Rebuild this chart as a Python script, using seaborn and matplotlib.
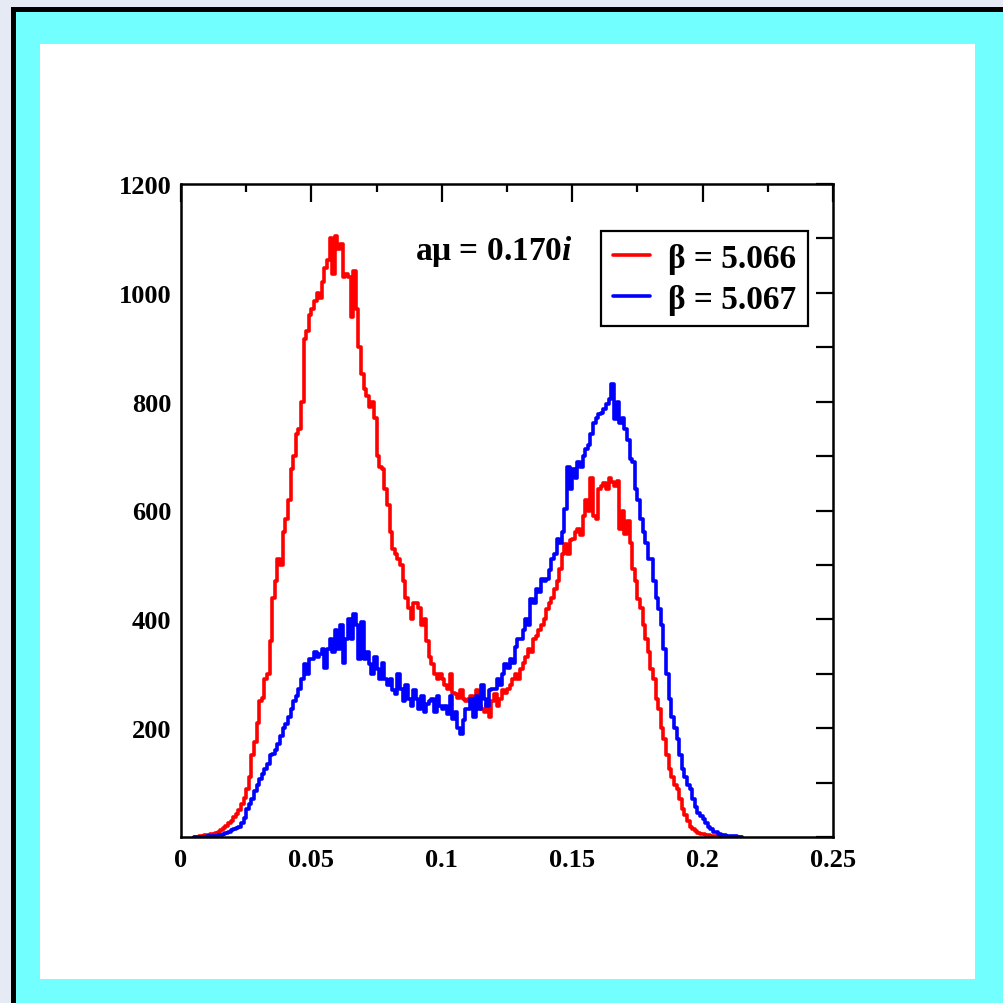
import numpy as np
import pandas as pd
import matplotlib
matplotlib.use("Agg")
import matplotlib.pyplot as plt
from matplotlib.patches import Rectangle
from matplotlib.ticker import MultipleLocator, FuncFormatter
import seaborn as sns

# ---------------- data ----------------
bin_width = 0.001
bin_start = 0.005

red_counts = [
    0, 0, 1, 2, 3,
    3, 5, 6, 8, 10, 12, 16, 20, 25, 30,
    36, 42, 50, 60, 72, 88, 110, 150, 175, 210,
    250, 255, 290, 300, 360, 440, 470, 510, 500, 560,
    585, 620, 676, 700, 740, 750, 800, 915, 930, 960,
    970, 985, 1000, 990, 1020, 1045, 1060, 1100, 1035, 1105,
    1080, 1090, 1030, 1035, 1030, 955, 1040, 970, 900, 850,
    823, 810, 790, 800, 770, 700, 680, 676, 640, 610,
    560, 530, 520, 511, 500, 470, 440, 420, 400, 430,
    430, 420, 390, 400, 360, 330, 318, 300, 290, 300,
    290, 280, 272, 300, 265, 263, 255, 270, 254, 250,
    254, 260, 245, 270, 240, 235, 230, 245, 220, 250,
    263, 240, 254, 270, 265, 272, 280, 290, 300, 290,
    309, 320, 330, 345, 340, 364, 370, 380, 390, 400,
    419, 430, 440, 456, 470, 492, 520, 538, 520, 545,
    548, 560, 566, 555, 590, 620, 600, 660, 590, 585,
    640, 645, 650, 640, 660, 652, 645, 655, 566, 600,
    557, 580, 540, 492, 470, 437, 420, 390, 364, 340,
    309, 290, 254, 235, 200, 180, 150, 125, 110, 95,
    88, 70, 51, 40, 30, 18, 14, 11, 8, 5,
    5, 4, 3, 2, 2, 1, 1, 0, 0, 0,
    0, 0, 0, 0, 0,
]

blue_counts = [
    0, 0, 0, 0, 0,
    1, 1, 2, 2, 3, 4, 5, 7, 9, 12,
    15, 16, 18, 25, 35, 51, 60, 70, 85, 95,
    107, 115, 125, 135, 150, 153, 160, 171, 185, 200,
    208, 220, 235, 250, 260, 272, 290, 318, 300, 327,
    327, 340, 330, 336, 345, 310, 345, 364, 340, 380,
    345, 390, 320, 364, 400, 364, 410, 390, 327, 395,
    327, 340, 318, 300, 330, 309, 290, 320, 290, 280,
    290, 270, 263, 300, 272, 250, 280, 254, 240, 270,
    254, 235, 260, 230, 245, 250, 254, 230, 260, 240,
    235, 240, 226, 260, 217, 230, 200, 190, 215, 235,
    235, 254, 220, 260, 235, 280, 254, 240, 270, 272,
    272, 290, 280, 300, 318, 310, 327, 320, 350, 364,
    364, 380, 400, 390, 437, 430, 456, 450, 474, 470,
    474, 490, 511, 520, 548, 540, 560, 603, 680, 640,
    676, 660, 690, 680, 700, 713, 720, 740, 760, 770,
    777, 780, 786, 795, 805, 832, 768, 800, 760, 770,
    750, 730, 695, 690, 640, 620, 585, 560, 540, 511,
    511, 470, 440, 419, 390, 345, 300, 254, 220, 200,
    180, 150, 125, 110, 95, 88, 70, 55, 45, 38,
    33, 25, 18, 14, 10, 9, 6, 4, 3, 2,
    2, 1, 1, 0, 0,
]

series_labels = ["β = 5.066", "β = 5.067"]
series_colors = ["#ff0000", "#0000ff"]
annotation_text = r"aμ = 0.170$\mathit{i}$"

x_ticks = [0, 0.05, 0.1, 0.15, 0.2, 0.25]
x_tick_labels = ["0", "0.05", "0.1", "0.15", "0.2", "0.25"]

# ---------------- build table ----------------
n = len(red_counts)
bin_end = bin_start + bin_width * n
centers = bin_start + bin_width * (np.arange(n) + 0.5)
df = pd.concat([
    pd.DataFrame({"x": centers, "count": red_counts, "series": series_labels[0]}),
    pd.DataFrame({"x": centers, "count": blue_counts, "series": series_labels[1]}),
], ignore_index=True)

# ---------------- style ----------------
sns.set_theme(style="white")
plt.rcParams["font.family"] = ["Liberation Serif", "DejaVu Serif"]
plt.rcParams["font.weight"] = "bold"
plt.rcParams["mathtext.fontset"] = "custom"
plt.rcParams["mathtext.it"] = "Liberation Serif:italic:bold"
plt.rcParams["mathtext.rm"] = "Liberation Serif:bold"

W = 1004
fig = plt.figure(figsize=(10.04, 10.04), dpi=100, facecolor="#e6eaf4")

def px_rect(x0, y0, x1, y1, color):
    fig.patches.append(Rectangle((x0 / W, 1 - y1 / W), (x1 - x0) / W, (y1 - y0) / W,
                                 transform=fig.transFigure, facecolor=color,
                                 edgecolor="none", zorder=-10))

px_rect(11, 8, 1004, 1004, "black")
px_rect(16, 13, 1004, 1004, "#72ffff")
px_rect(40, 45, 975, 980, "white")

ax = fig.add_axes([181 / W, 1 - 838 / W, (833 - 181) / W, (838 - 185) / W])
ax.set_facecolor("white")

for lab, col in zip(series_labels, series_colors):
    sub = df[df["series"] == lab]
    sns.histplot(data=sub, x="x", weights="count", binwidth=bin_width,
                 binrange=(bin_start, bin_end), element="step",
                 fill=False, color=col, linewidth=2.6, ax=ax, label=lab)

ax.set_xlim(0, 0.25)
ax.set_ylim(0, 1200)
ax.set_xlabel("")
ax.set_ylabel("")

ax.set_xticks(x_ticks)
ax.set_xticklabels(x_tick_labels)
ax.xaxis.set_minor_locator(MultipleLocator(0.025))
ax.yaxis.set_major_locator(MultipleLocator(200))
ax.yaxis.set_minor_locator(MultipleLocator(100))
ax.yaxis.set_major_formatter(FuncFormatter(lambda v, p: "" if v == 0 else f"{int(v)}"))

ax.tick_params(axis="both", which="both", direction="in", top=True, right=True,
               width=1.6, colors="black", labelsize=19)
ax.tick_params(axis="x", which="major", length=13, pad=8)
ax.tick_params(axis="x", which="minor", length=6)
ax.tick_params(axis="y", which="major", length=12, pad=7)
ax.tick_params(axis="y", which="minor", length=12)
for lbl in ax.get_xticklabels() + ax.get_yticklabels():
    lbl.set_fontweight("bold")
for sp in ax.spines.values():
    sp.set_color("black")
    sp.set_linewidth(1.8)

fig.text(415 / W, 1 - 260 / W, annotation_text, fontsize=24, fontweight="bold",
         ha="left", va="baseline", color="black")

leg = ax.legend(loc="upper right", bbox_to_anchor=((808 - 181) / 652, (838 - 232) / 653),
                borderaxespad=0, frameon=True, fancybox=False,
                handlelength=1.1, handletextpad=0.55, borderpad=0.35, labelspacing=0.3,
                prop={"family": "Liberation Serif", "weight": "bold", "size": 24})
leg.get_frame().set_edgecolor("black")
leg.get_frame().set_linewidth(1.6)
leg.get_frame().set_alpha(1)
for t in leg.get_texts():
    t.set_color("black")

fig.savefig("out.png", dpi=100, facecolor=fig.get_facecolor())
